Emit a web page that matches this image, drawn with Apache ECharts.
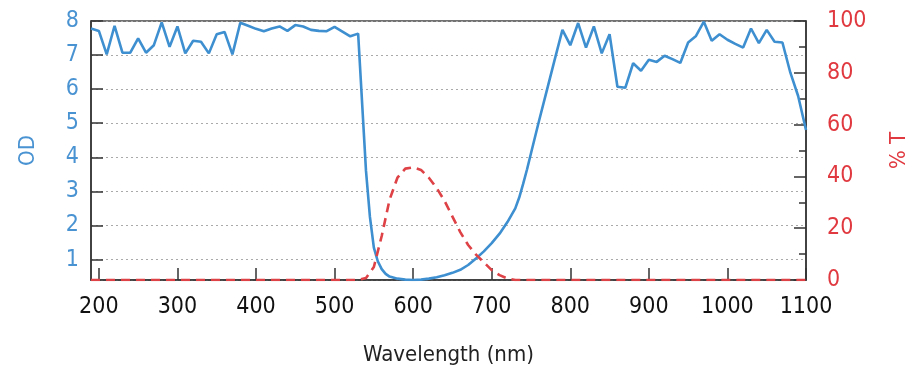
<!DOCTYPE html>
<html><head><meta charset="utf-8">
<script src="https://cdn.jsdelivr.net/npm/echarts@6/dist/echarts.min.js"></script>
<style>html,body{margin:0;padding:0;background:#fff}#c{width:922px;height:380px}</style>
</head><body><div id="c"></div>
<script>
// OD curve (left axis)
const odWavelengths = [190,200,210,220,230,240,250,260,270,280,290,300,310,320,330,340,350,360,370,380,390,400,410,420,430,440,450,460,470,480,490,500,510,520,530,540,545,550,555,560,565,570,580,590,600,610,620,630,640,650,660,670,680,690,700,710,720,730,735,740,745,750,760,770,780,790,800,810,820,830,840,850,860,870,880,890,900,910,920,930,940,950,960,970,980,990,1000,1010,1020,1030,1040,1050,1060,1070,1080,1090,1100];
const odValues = [7.78,7.71,7.02,7.86,7.07,7.07,7.49,7.07,7.29,7.96,7.24,7.84,7.05,7.42,7.39,7.05,7.61,7.68,7.02,7.95,7.86,7.77,7.70,7.78,7.84,7.71,7.88,7.84,7.74,7.71,7.70,7.83,7.69,7.55,7.63,3.6,2.25,1.35,0.95,0.72,0.58,0.5,0.44,0.41,0.40,0.41,0.44,0.48,0.54,0.61,0.70,0.84,1.03,1.24,1.48,1.76,2.1,2.5,2.82,3.22,3.65,4.12,5.05,5.95,6.85,7.74,7.29,7.94,7.22,7.84,7.05,7.61,6.07,6.04,6.76,6.54,6.86,6.80,6.98,6.88,6.77,7.37,7.56,7.98,7.42,7.61,7.45,7.33,7.22,7.78,7.35,7.74,7.39,7.37,6.49,5.8,4.8];
// %T curve (right axis)
const tWavelengths = [190,530,540,550,560,570,580,590,600,610,620,630,640,650,660,670,680,690,700,710,720,730,1100];
const tValues = [0,0,0.8,5,17,31,39.5,43,43.5,42.5,39.5,35.5,30.5,24.5,18.5,13.5,9.8,6.8,3.8,1.9,0.6,0,0];

const BLUE = '#3d8fd0', BLUE_TXT = '#4a93d2', RED = '#de4146', RED_TXT = '#e0393f';
const FONT = "'DejaVu Sans Condensed','Liberation Sans',sans-serif";
const AX = '#333';

const chart = echarts.init(document.getElementById('c'), null, {renderer:'canvas'});
chart.setOption({
  animation: false,
  backgroundColor: '#fff',
  grid: {left: 91, right: 116, top: 21, bottom: 100, show: true, borderColor: '#444', borderWidth: 1.5, backgroundColor: 'transparent'},
  xAxis: {
    type: 'value', min: 190, max: 1100, splitNumber: 9,
    axisLine: {show: true, lineStyle: {color: AX, width: 1.5}},
    axisTick: {show: true, inside: true, length: 12, lineStyle: {color: AX, width: 1.5}},
    axisLabel: {showMinLabel: false, fontSize: 23, color: '#111', margin: 16, fontFamily: FONT,
      formatter: v => String(v)},
    splitLine: {show: false},
    name: 'Wavelength (nm)', nameLocation: 'middle', nameGap: 64,
    nameTextStyle: {fontSize: 22, color: '#222', fontFamily: FONT}
  },
  yAxis: [{
    type: 'value', position: 'left', min: 0.4, max: 8, splitNumber: 8,
    axisLine: {show: true, lineStyle: {color: AX, width: 1.5}},
    axisTick: {show: true, inside: true, length: 12, lineStyle: {color: AX, width: 1.5}},
    axisLabel: {showMinLabel: false, fontSize: 23, color: BLUE_TXT, margin: 12, fontFamily: FONT},
    splitLine: {show: true, lineStyle: {color: '#aaa', width: 1.2, type: [2, 3]}},
    name: 'OD', nameLocation: 'middle', nameGap: 52, nameRotate: 90,
    nameTextStyle: {fontSize: 22, color: BLUE_TXT, fontFamily: FONT}
  }, {
    type: 'value', position: 'right', min: 0, max: 100, interval: 20,
    axisLine: {show: true, lineStyle: {color: AX, width: 1.5}},
    axisTick: {show: true, inside: true, length: 12, lineStyle: {color: AX, width: 1.5}},
    minorTick: {show: true, splitNumber: 2, length: 7, lineStyle: {color: AX, width: 1.5}},
    axisLabel: {fontSize: 23, color: RED_TXT, margin: 21, fontFamily: FONT},
    splitLine: {show: false},
    name: '% T', nameLocation: 'middle', nameGap: 82, nameRotate: 90,
    nameTextStyle: {fontSize: 22, color: RED_TXT, fontFamily: FONT}
  }],
  series: [{
    type: 'line', yAxisIndex: 0, symbol: 'none', smooth: false,
    data: odWavelengths.map((w, i) => [w, odValues[i]]),
    lineStyle: {color: BLUE, width: 2.6}, z: 3
  }, {
    type: 'line', yAxisIndex: 1, symbol: 'none', smooth: false,
    data: tWavelengths.map((w, i) => [w, tValues[i]]),
    lineStyle: {color: RED, width: 2.6, type: [9, 6]}, z: 4
  }]
});
</script></body></html>
